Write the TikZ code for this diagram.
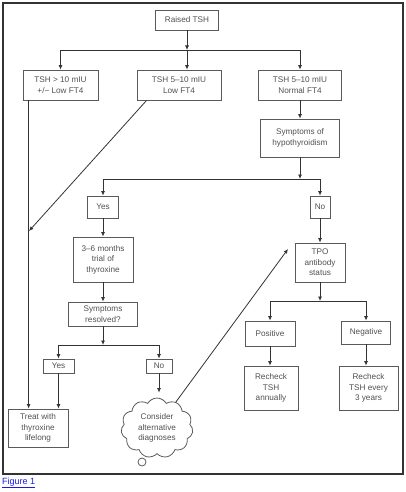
\documentclass[tikz,border=0pt]{standalone}
\usepackage{fontspec}
\setmainfont{Liberation Sans}
\usetikzlibrary{arrows.meta,shapes.symbols}
\definecolor{boxgray}{HTML}{5A5A5A}
\definecolor{txtgray}{HTML}{505050}
\definecolor{linegray}{HTML}{333333}
\definecolor{linkblue}{HTML}{1A1AE6}

\begin{document}
\begin{tikzpicture}
	[x=1pt,y=-1pt,
	box/.style={draw=boxgray,line width=.8pt,text=txtgray,align=center,inner sep=1pt,font=\fontsize{8.2}{10.5}\selectfont},
	arr/.style={draw=linegray,line width=.8pt,-{Latex[length=4.5pt,width=4pt]}}]
	\useasboundingbox (0,0) rectangle (405,492);
	\draw[draw=linegray,line width=1.2pt] (3,3) rectangle (403,474);
	
	\node[box,minimum width=63pt,minimum height=20pt] (raised) at (187,20) {Raised TSH};
	
	\node[box,minimum width=75pt,minimum height=30pt] (high) at (60.5,85) {TSH > 10 mIU\\+/− Low FT4};
	\node[box,minimum width=84pt,minimum height=30pt] (lowft) at (179,85) {TSH 5--10 mIU\\Low FT4};
	\node[box,minimum width=83pt,minimum height=30pt] (normft) at (300,85) {TSH 5--10 mIU\\Normal FT4};
	\node[box,minimum width=79pt,minimum height=38pt] (symp) at (300,138) {Symptoms of\\hypothyroidism};
	
	\node[box,minimum width=31pt,minimum height=22pt] (yes1) at (103,207) {Yes};
	\node[box,minimum width=20pt,minimum height=22pt] (no1) at (320,207) {No};
	\node[box,minimum width=60pt,minimum height=45pt] (trial) at (103,259.5) {3--6 months\\trial of\\thyroxine};
	\node[box,minimum width=69pt,minimum height=24pt] (resolved) at (103,314) {Symptoms\\resolved?};
	\node[box,minimum width=50pt,minimum height=39pt] (tpo) at (320,262.5) {TPO\\antibody\\status};
	
	\node[box,minimum width=50pt,minimum height=25pt] (pos) at (270,333.5) {Positive};
	\node[box,minimum width=49pt,minimum height=23pt] (neg) at (366,332.5) {Negative};
	\node[box,minimum width=54pt,minimum height=44pt] (annual) at (271,388) {Recheck\\TSH\\annually};
	\node[box,minimum width=59pt,minimum height=44pt] (three) at (368.5,388) {Recheck\\TSH every\\3 years};
	
	\node[box,minimum width=31pt,minimum height=14pt] (yes2) at (58.5,366) {Yes};
	\node[box,minimum width=26pt,minimum height=14pt] (no2) at (159,366) {No};
	\node[box,minimum width=60pt,minimum height=38pt] (treat) at (38,428) {Treat with\\thyroxine\\lifelong};
	\node[box,cloud,cloud puffs=11,cloud puff arc=120,aspect=1.2,minimum width=72pt,minimum height=60pt,inner sep=0pt] (cloud) at (157,428) {Consider\\alternative\\diagnoses};
	\node[draw=boxgray,line width=.8pt,circle,minimum size=8pt,inner sep=0pt] (tail) at (142,462) {};
	
	\coordinate (split1) at (187,50);
	\coordinate (split2) at (300,179);
	\coordinate (split3) at (103,345);
	\coordinate (split4) at (320,301);
	\coordinate (lowtip) at (29,231);
	\coordinate (tpoin) at (288,249);
	
	\draw[arr] (raised) -- (split1);
	\draw[arr] (split1) -| (high);
	\draw[arr] (split1) -- (split1 |- lowft.north);
	\draw[arr] (split1) -| (normft);
	\draw[arr] (normft) -- (symp);
	\draw[arr] (symp) -- (split2);
	\draw[arr] (split2) -| (yes1);
	\draw[arr] (split2) -| (no1);
	\draw[arr] (yes1) -- (trial);
	\draw[arr] (trial) -- (resolved);
	\draw[arr] (resolved) -- (split3);
	\draw[arr] (split3) -| (yes2);
	\draw[arr] (split3) -| (no2);
	\draw[arr] (yes2) -- (yes2 |- treat.north);
	\draw[arr] ([xshift=6pt]high.south west) -- ([xshift=21pt]treat.north west);
	\draw[arr] ([xshift=10pt]lowft.south west) -- (lowtip);
	\draw[arr,shorten >=5pt] (no2) -- (no2 |- cloud.north);
	\draw[arr] (cloud.54) -- (tpoin);
	\draw[arr] (no1) -- (tpo);
	\draw[arr] (tpo) -- (split4);
	\draw[arr] (split4) -| (pos);
	\draw[arr] (split4) -| (neg);
	\draw[arr] (pos) -- (pos |- annual.north);
	\draw[arr] (neg) -- (neg |- three.north);
	
	\node[anchor=west,inner sep=0pt,text=linkblue,font=\fontsize{9}{10}\selectfont] (fig) at (2,483) {\underline{Figure 1}};
\end{tikzpicture}
\end{document}
